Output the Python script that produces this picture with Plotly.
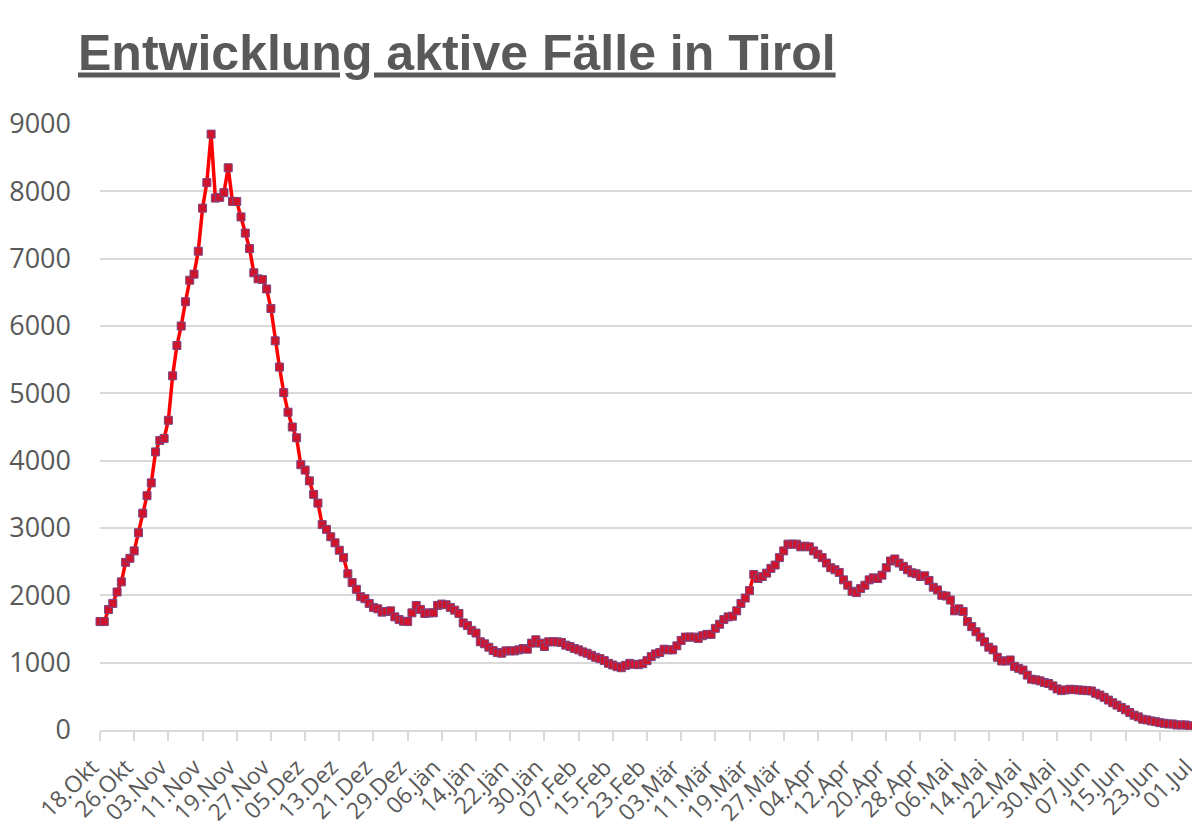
import pandas as pd
import plotly.graph_objects as go

start_date = "2020-10-18"
end_date = "2021-07-01"

aktive_faelle = [
    1610, 1610, 1790, 1880, 2050, 2200, 2490, 2550, 2660, 2930,
    3220, 3480, 3670, 4130, 4300, 4330, 4600, 5260, 5710, 6000,
    6360, 6680, 6770, 7110, 7750, 8130, 8850, 7900, 7910, 7980,
    8350, 7850, 7850, 7620, 7380, 7150, 6790, 6700, 6690, 6550,
    6260, 5780, 5390, 5010, 4720, 4500, 4340, 3940, 3860, 3700,
    3500, 3370, 3050, 2980, 2870, 2780, 2670, 2560, 2320, 2190,
    2090, 1980, 1950, 1880, 1820, 1800, 1750, 1760, 1770, 1680,
    1640, 1615, 1610, 1740, 1850, 1790, 1730, 1740, 1740, 1850,
    1870, 1860, 1820, 1780, 1730, 1590, 1550, 1480, 1440, 1310,
    1280, 1230, 1180, 1150, 1140, 1175, 1175, 1175, 1190, 1210,
    1200, 1290, 1340, 1290, 1240, 1310, 1310, 1310, 1300, 1260,
    1240, 1210, 1190, 1160, 1140, 1110, 1080, 1060, 1030, 990,
    965, 940, 925, 960, 990, 975, 970, 985, 1030, 1090,
    1130, 1150, 1200, 1190, 1190, 1250, 1330, 1380, 1380, 1380,
    1360, 1400, 1420, 1420, 1510, 1570, 1640, 1680, 1690, 1770,
    1880, 1960, 2070, 2310, 2250, 2280, 2330, 2400, 2450, 2560,
    2660, 2760, 2760, 2760, 2720, 2730, 2720, 2660, 2610, 2560,
    2480, 2410, 2380, 2340, 2230, 2150, 2060, 2040, 2100, 2150,
    2230, 2260, 2250, 2300, 2410, 2510, 2540, 2480, 2430, 2380,
    2335, 2320, 2280, 2290, 2220, 2120, 2080, 2000, 1990, 1930,
    1770, 1800, 1760, 1610, 1535, 1460, 1380, 1310, 1230, 1190,
    1080, 1025, 1025, 1040, 945, 915, 890, 815, 755, 745,
    730, 705, 690, 655, 610, 585, 595, 605, 600, 595,
    590, 585, 580, 545, 520, 485, 445, 405, 370, 335,
    300, 260, 220, 195, 160, 150, 135, 125, 110, 100,
    90, 90, 75, 75, 75, 60, 60,
]

tick_labels = [
    "18.Okt", "26.Okt", "03.Nov", "11.Nov", "19.Nov", "27.Nov", "05.Dez",
    "13.Dez", "21.Dez", "29.Dez", "06.Jän", "14.Jän", "22.Jän", "30.Jän",
    "07.Feb", "15.Feb", "23.Feb", "03.Mär", "11.Mär", "19.Mär", "27.Mär",
    "04.Apr", "12.Apr", "20.Apr", "28.Apr", "06.Mai", "14.Mai", "22.Mai",
    "30.Mai", "07.Jun", "15.Jun", "23.Jun", "01.Jul",
]

y_ticks = [0, 1000, 2000, 3000, 4000, 5000, 6000, 7000, 8000, 9000]

dates = pd.date_range(start_date, end_date, freq="D")
tick_dates = [d.strftime("%Y-%m-%d") for d in dates[::8]]
date_strs = [d.strftime("%Y-%m-%d") for d in dates]

grey = "#595959"
grid = "#d9d9d9"

# the page body adds an 8px offset, so the figure is sized to fit the window
W, H = 1192, 817

fig = go.Figure()
fig.add_trace(go.Scatter(
    x=date_strs,
    y=aktive_faelle,
    mode="lines+markers",
    line=dict(color="#ff0000", width=3.5),
    marker=dict(symbol="square", size=8, color="#d0142c",
                line=dict(color="#7a4482", width=1)),
    cliponaxis=False,
    showlegend=False,
))

fig.update_layout(
    width=W,
    height=H,
    paper_bgcolor="white",
    plot_bgcolor="white",
    margin=dict(l=92, r=6, t=116, b=95, autoexpand=False),
    title=dict(
        text="<u><b>Entwicklung aktive Fälle in Tirol</b></u>",
        font=dict(family="Liberation Sans, Arial", size=50, color=grey),
        xref="container", yref="container",
        x=70 / W, xanchor="left",
        y=1 - 44 / H, yanchor="middle",
    ),
)

fig.update_xaxes(
    type="date",
    range=[date_strs[0], date_strs[-1] + " 00:30"],
    tickmode="array",
    tickvals=tick_dates,
    ticktext=tick_labels,
    tickangle=-45,
    tickfont=dict(family="Open Sans", size=23, color=grey),
    ticklabeloverflow="allow",
    ticklabelshift=-8,
    ticklabelstandoff=4,
    showgrid=False,
    showline=True,
    linecolor=grid,
    linewidth=1.5,
    ticks="outside",
    ticklen=9,
    tickwidth=1.5,
    tickcolor=grid,
    zeroline=False,
    automargin=False,
)

fig.update_yaxes(
    range=[0, 9000],
    tickmode="array",
    tickvals=y_ticks,
    ticktext=[str(v) for v in y_ticks],
    tickfont=dict(family="Open Sans", size=27, color=grey),
    showgrid=True,
    gridcolor=grid,
    gridwidth=1.5,
    zeroline=False,
    showline=False,
    ticks="",
    ticklabelstandoff=28,
    automargin=False,
)

fig.write_html("out.html")
